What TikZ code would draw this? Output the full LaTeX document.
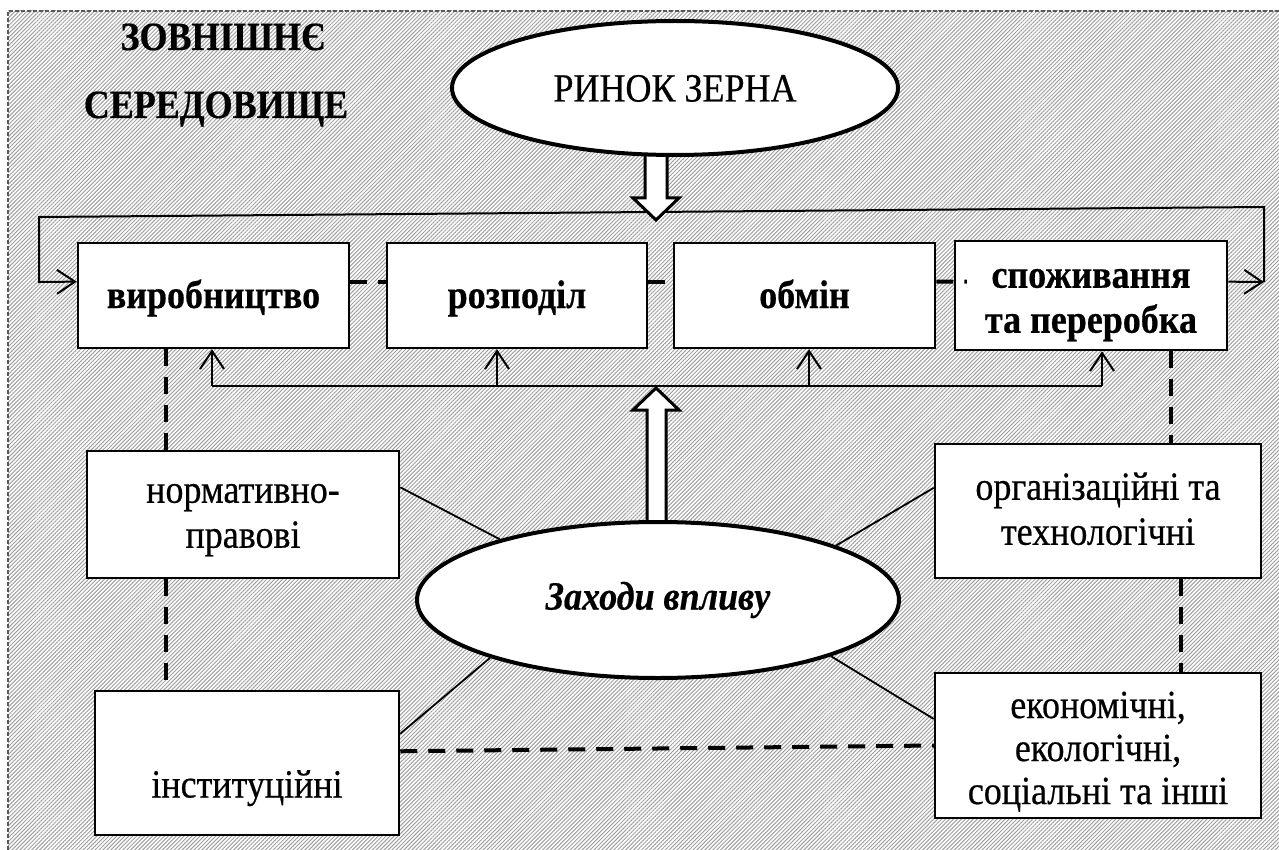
\documentclass[tikz,border=0pt]{standalone}
\usepackage{fontspec}
\setmainfont{Liberation Serif}[FakeStretch=0.9, FakeBold=0.5]
\usetikzlibrary{shapes.geometric,arrows.meta,patterns.meta,calc}
\pgfdeclarelayer{back}
\pgfdeclarelayer{lines}
\pgfdeclarelayer{mid}
\pgfsetlayers{back,lines,mid,main}

\begin{document}
\begin{tikzpicture}[x=1pt,y=-1pt,
  txt/.style={font=\fontsize{40}{45}\selectfont},
  boldtxt/.style={font=\fontsize{40}{45}\selectfont\bfseries},
  box/.style={draw, line width=2.5pt, fill=white, inner sep=0pt, align=center, txt},
  rowbox/.style={box, minimum height=105pt, boldtxt, text height=32pt, text depth=7pt},
  oval/.style={ellipse, draw, line width=4pt, fill=white, inner sep=0pt, txt},
  link/.style={line width=1.8pt},
  fb/.style={line width=2pt, -{Straight Barb[length=18pt,width=24pt]}},
  dsh/.style={line width=4pt, dash pattern=on 17pt off 11pt},
  hollow/.style={line width=3pt, fill=white, line join=miter}
]
\useasboundingbox (0,0) rectangle (1279,850);

% hatched surroundings with a dashed frame
\begin{pgfonlayer}{back}
  \fill[pattern={Lines[angle=45,distance=2.8pt,line width=1pt]}, pattern color=gray!75] (8,11) rectangle (1279,850);
  \draw[black!65, line width=1.5pt, dash pattern=on 4pt off 2pt] (8,850) -- (8,11) -- (1279,11);
\end{pgfonlayer}

% titles
\node[anchor=base, boldtxt] (envA) at (223,50) {ЗОВНІШНЄ};
\node[anchor=base, boldtxt] (envB) at (216,118) {СЕРЕДОВИЩЕ};

% market
\node[oval, minimum width=446pt, minimum height=134pt, text height=27pt, text depth=0pt] (market) at (675,88) {РИНОК ЗЕРНА};

% stages
\node[rowbox, minimum width=271pt] (vyr) at (213.5,295.5) {виробництво};
\node[rowbox, minimum width=260pt] (rozp) at (517,295.5) {розподіл};
\node[rowbox, minimum width=261pt] (obm) at (804.5,295.5) {обмін};
\node[box, boldtxt, minimum width=272pt, minimum height=109pt] (spoz) at (1091,295.5)
  {\rule{0pt}{43pt}споживання\\та переробка\strut};

% groups of measures
\node[box, minimum width=312pt, minimum height=127pt] (norm) at (243,514.5)
  {\rule{0pt}{35pt}нормативно-\\правові\strut};
\node[box, minimum width=304pt, minimum height=144pt] (inst) at (247,763) {};
\node[txt, text height=27pt, text depth=8pt] (instlbl) at ([yshift=-25pt]inst.center) {інституційні};
\node[box, minimum width=326pt, minimum height=134pt] (org) at (1098,511)
  {\rule{0pt}{36pt}організаційні та\\технологічні\strut};
\node[box, font=\fontsize{40}{43}\selectfont, minimum width=326pt, minimum height=145pt] (econ) at (1098,745.5)
  {\rule{0pt}{44pt}економічні,\\екологічні,\\соціальні та інші\strut};

% measures
\node[oval, minimum width=482pt, minimum height=156pt, font=\fontsize{40}{45}\selectfont\bfseries\itshape] (zah) at (658,600) {Заходи впливу};

% feedback loop and bus
\coordinate (fbL) at (39,282);
\coordinate (fbLt) at (39,217);
\coordinate (fbRt) at (1264,207);
\coordinate (fbR) at (1264,282);
\coordinate (bus1) at (212,386);
\coordinate (bus2) at (497,386);
\coordinate (bus3) at (809,386);
\coordinate (bus4) at (1102,386);
\coordinate (dl) at (166,0);
\coordinate (dr1) at (1171,0);
\coordinate (dr2) at (1181,0);
\coordinate (sw) at ($(spoz.north west)!0.376!(spoz.south west)$);

\begin{pgfonlayer}{lines}
  \draw[fb] ($(spoz.north east)!0.376!(spoz.south east)$) -- (fbR);
  \draw[fb] (fbR) -- (fbRt) -- (fbLt) -- (fbL) -- ($(vyr.north west)!0.371!(vyr.south west)$);
  \draw[link] (bus1) -- (bus4);
  \draw[fb] (bus1) -- (bus1 |- vyr.south);
  \draw[fb] (bus2) -- (bus2 |- rozp.south);
  \draw[fb] (bus3) -- (bus3 |- obm.south);
  \draw[fb] (bus4) -- (bus4 |- spoz.south);
  % links from the measures to their groups
  \draw[link] ($(norm.north east)!0.29!(norm.south east)$) -- (zah.159);
  \draw[link] ($(inst.north east)!0.30!(inst.south east)$) -- (zah.199);
  \draw[link] ($(org.north west)!0.33!(org.south west)$) -- (zah.17);
  \draw[link] ($(econ.north west)!0.32!(econ.south west)$) -- (zah.342);
  % dashed ties
  \draw[dsh] (vyr.south -| dl) -- (norm.north -| dl);
  \draw[dsh] (norm.south -| dl) -- (inst.north -| dl);
  \draw[dsh] (spoz.south -| dr1) -- (org.north -| dr1);
  \draw[dsh] (org.south -| dr2) -- (econ.north -| dr2);
  \draw[dsh] ($(inst.north east)!0.42!(inst.south east)$) -- ($(econ.north west)!0.5!(econ.south west)$);
\end{pgfonlayer}

% hollow arrows
\begin{pgfonlayer}{mid}
  \draw[hollow] (645,140) -- (645,198) -- (633,198) -- (656,220) -- (679,198) -- (667,198) -- (667,140);
  \draw[hollow] (647,545) -- (647,410) -- (633,410) -- (656,388) -- (679,410) -- (666,410) -- (666,545);
\end{pgfonlayer}

% dashed chain of stages
\draw[dsh] ($(vyr.north east)!0.371!(vyr.south east)$) -- ($(rozp.north west)!0.371!(rozp.south west)$);
\draw[dsh] ($(rozp.north east)!0.371!(rozp.south east)$) -- ($(obm.north west)!0.371!(obm.south west)$);
\draw[dsh] ($(obm.north east)!0.371!(obm.south east)$) -- ([xshift=13pt]sw);

\end{tikzpicture}
\end{document}
